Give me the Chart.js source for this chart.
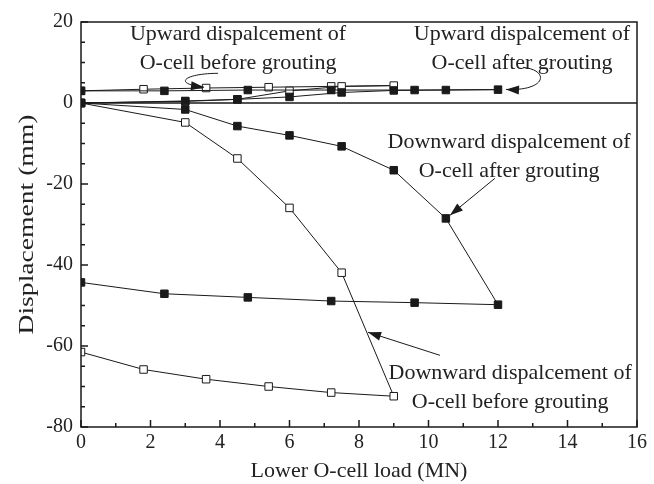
<!DOCTYPE html>
<html lang="en">
<head>
    <meta charset="UTF-8" />
    <title>O-cell displacement</title>
    <script src="https://cdn.jsdelivr.net/npm/chart.js"></script>
    <style>
        body {
            margin: 0;
            background: white;
        }
        canvas {
            display: block;
        }
    </style>
</head>
<body>
    <canvas id="chart" width="654" height="484"></canvas>

    <script>
        // loads (MN) and displacements (mm)
        const beforeX = [0, 3, 4.5, 6, 7.5, 9, 7.2, 5.4, 3.6, 1.8, 0];
        const beforeDown = [0, -4.8, -13.7, -25.9, -41.9, -72.4, -71.5, -70.0, -68.2, -65.8, -61.5];
        const beforeUp = [0, 0.4, 0.9, 3.0, 4.1, 4.3, 4.1, 3.9, 3.7, 3.4, 3.0];

        const afterX = [0, 3, 4.5, 6, 7.5, 9, 10.5, 12, 9.6, 7.2, 4.8, 2.4, 0];
        const afterDown = [0, -1.6, -5.7, -8.0, -10.7, -16.6, -28.5, -49.8, -49.3, -48.9, -48.0, -47.1, -44.3];
        const afterUp = [0, 0.5, 0.9, 1.5, 2.6, 3.1, 3.2, 3.3, 3.2, 3.2, 3.2, 3.0, 3.0];

        const xTicks = [0, 2, 4, 6, 8, 10, 12, 14, 16];
        const yTicks = [-80, -60, -40, -20, 0, 20];

        // annotation labels, centred at (x, y) in data units
        const notes = [
            {x: 4.52, y: 17.0, lines: ["Upward dispalcement of", "O-cell before grouting"]},
            {x: 12.69, y: 17.0, lines: ["Upward dispalcement of", "O-cell after grouting"]},
            {x: 12.32, y: -9.6, lines: ["Downward dispalcement of", "O-cell after grouting"]},
            {x: 12.35, y: -66.7, lines: ["Downward dispalcement of", "O-cell before grouting"]}
        ];
        // arrows: start, optional bezier controls, tip (data units)
        const arrows = [
            {pts: [[3.94, 7.33], [3.0, 7.3], [2.6, 4.8], [3.54, 3.9]]},
            {pts: [[12.72, 8.8], [13.5, 8.1], [13.4, 2.9], [12.23, 3.35]]},
            {pts: [[11.91, -18.6], [10.62, -27.7]]},
            {pts: [[10.33, -62.3], [8.26, -56.6]]}
        ];

        const yTitle = "Displacement (mm)";
        const ink = "#1a1a1a";
        const serif = "'Liberation Serif', 'Times New Roman', serif";

        function toPoints(xs, ys) {
            return xs.map((x, i) => ({x: x, y: ys[i]}));
        }

        function series(xs, ys, filled) {
            return {
                data: toPoints(xs, ys),
                showLine: true,
                borderColor: ink,
                borderWidth: 1,
                pointStyle: "rect",
                pointRadius: 5.3,
                pointHoverRadius: 5.3,
                pointBorderWidth: 1,
                pointBorderColor: ink,
                pointBackgroundColor: filled ? ink : "white",
                tension: 0
            };
        }

        const decor = {
            id: "decor",
            beforeDatasetsDraw(chart) {
                const {ctx, chartArea: a, scales: {y}} = chart;
                const y0 = y.getPixelForValue(0);
                ctx.save();
                ctx.strokeStyle = ink;
                ctx.lineWidth = 1.5;
                ctx.beginPath();
                ctx.moveTo(a.left, y0);
                ctx.lineTo(a.right, y0);
                ctx.stroke();
                ctx.restore();
            },
            afterDatasetsDraw(chart) {
                const {ctx, chartArea: a, scales: {x, y}} = chart;
                ctx.save();
                ctx.strokeStyle = ink;
                ctx.lineWidth = 1.5;
                ctx.strokeRect(a.left, a.top, a.right - a.left, a.bottom - a.top);

                // inward ticks on bottom and left
                ctx.beginPath();
                for (let v = 0; v <= 16; v += 1) {
                    const px = x.getPixelForValue(v);
                    const len = v % 2 === 0 ? 7 : 4;
                    ctx.moveTo(px, a.bottom);
                    ctx.lineTo(px, a.bottom - len);
                }
                for (let v = -80; v <= 20; v += 5) {
                    const py = y.getPixelForValue(v);
                    const len = v % 20 === 0 ? 7 : 4;
                    ctx.moveTo(a.left, py);
                    ctx.lineTo(a.left + len, py);
                }
                ctx.stroke();

                // arrows
                ctx.lineWidth = 1;
                ctx.fillStyle = ink;
                arrows.forEach(ar => {
                    const p = ar.pts.map(q => [x.getPixelForValue(q[0]), y.getPixelForValue(q[1])]);
                    ctx.beginPath();
                    ctx.moveTo(p[0][0], p[0][1]);
                    if (p.length === 4) {
                        ctx.bezierCurveTo(p[1][0], p[1][1], p[2][0], p[2][1], p[3][0], p[3][1]);
                    } else {
                        ctx.lineTo(p[1][0], p[1][1]);
                    }
                    ctx.stroke();
                    const tip = p[p.length - 1];
                    const from = p[p.length - 2];
                    const ang = Math.atan2(tip[1] - from[1], tip[0] - from[0]);
                    const L = 13, W = 4.5;
                    ctx.beginPath();
                    ctx.moveTo(tip[0], tip[1]);
                    ctx.lineTo(tip[0] - L * Math.cos(ang) + W * Math.sin(ang), tip[1] - L * Math.sin(ang) - W * Math.cos(ang));
                    ctx.lineTo(tip[0] - L * Math.cos(ang) - W * Math.sin(ang), tip[1] - L * Math.sin(ang) + W * Math.cos(ang));
                    ctx.closePath();
                    ctx.fill();
                });

                // labels
                ctx.fillStyle = "#222";
                ctx.font = "22px " + serif;
                ctx.textAlign = "center";
                ctx.textBaseline = "middle";
                notes.forEach(n => {
                    const cx = x.getPixelForValue(n.x);
                    const cy = y.getPixelForValue(n.y);
                    n.lines.forEach((t, i) => ctx.fillText(t, cx, cy + i * 29.5));
                });

                // y title, stretched along the axis like the original figure
                const w = ctx.measureText(yTitle).width;
                ctx.translate(27, (a.top + a.bottom) / 2);
                ctx.rotate(-Math.PI / 2);
                ctx.scale(220 / w, 1);
                ctx.fillText(yTitle, 0, 0);
                ctx.restore();
            }
        };

        new Chart(document.getElementById("chart"), {
            type: "scatter",
            data: {
                datasets: [
                    series(afterX, afterUp, true),
                    series(afterX, afterDown, true),
                    series(beforeX, beforeUp, false),
                    series(beforeX, beforeDown, false)
                ]
            },
            options: {
                responsive: false,
                animation: false,
                layout: {padding: {top: 22, right: 17, left: 0, bottom: 0}},
                plugins: {legend: {display: false}, tooltip: {enabled: false}},
                scales: {
                    x: {
                        type: "linear",
                        min: 0,
                        max: 16,
                        afterBuildTicks: s => { s.ticks = xTicks.map(v => ({value: v})); },
                        afterFit: s => { s.height = 57; },
                        grid: {display: false, drawTicks: false},
                        border: {display: false},
                        ticks: {color: "#222", padding: 4, font: {family: serif, size: 20}},
                        title: {display: true, text: "Lower O-cell load (MN)", color: "#222",
                                font: {family: serif, size: 22}, padding: {top: 4, bottom: 0}}
                    },
                    y: {
                        type: "linear",
                        min: -80,
                        max: 20,
                        afterBuildTicks: s => { s.ticks = yTicks.map(v => ({value: v})); },
                        afterFit: s => { s.width = 81; },
                        grid: {display: false, drawTicks: false},
                        border: {display: false},
                        ticks: {color: "#222", padding: 8, font: {family: serif, size: 20}},
                        title: {display: false}
                    }
                }
            },
            plugins: [decor]
        });
    </script>
</body>
</html>
